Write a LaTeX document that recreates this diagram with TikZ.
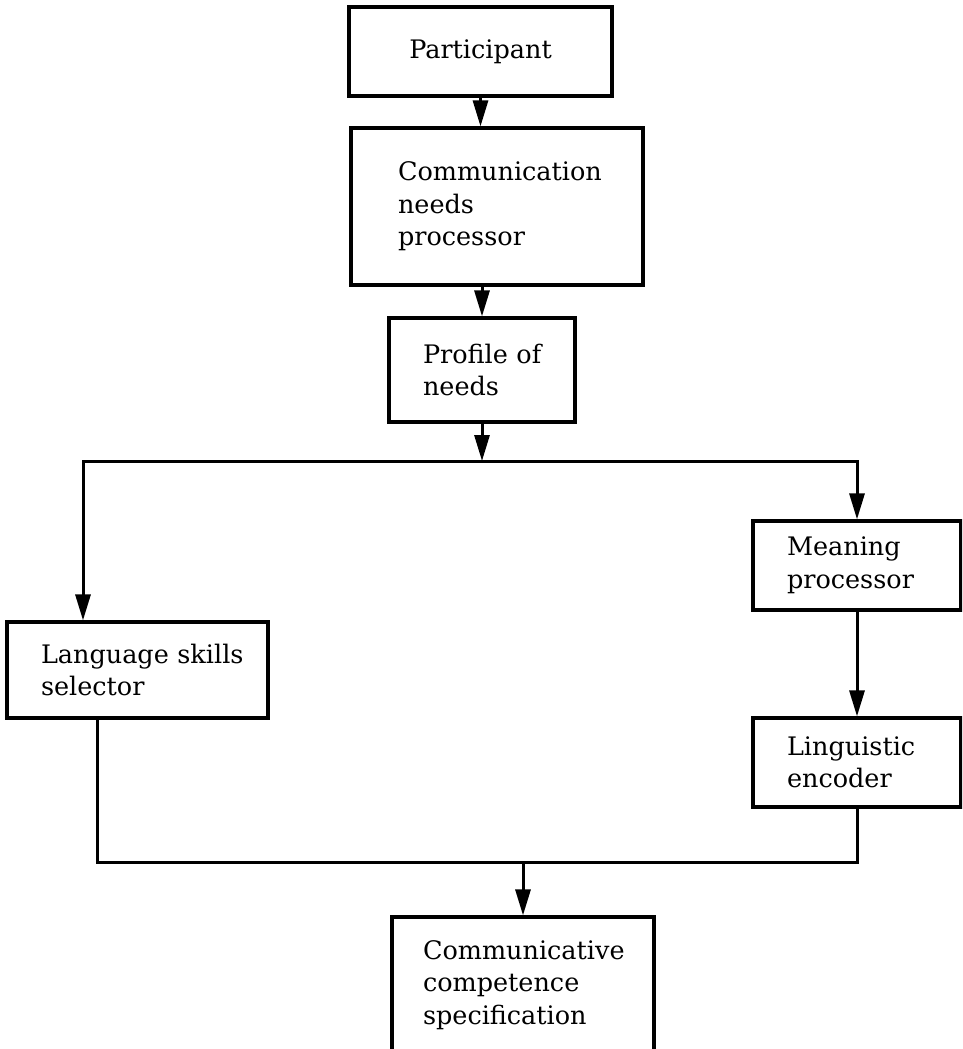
\documentclass[tikz,border=0pt]{standalone}
\usepackage{fontspec}
\setmainfont{DejaVu Serif}
\usetikzlibrary{arrows.meta}
\begin{document}
\begin{tikzpicture}[x=1pt,y=-1pt,
  box/.style={draw,line width=3.2pt,rectangle,inner sep=0pt,align=left,
    font=\fontsize{25.5}{32.5}\selectfont},
  conn/.style={line width=3pt},
  arr/.style={conn,-{Triangle[length=26pt,width=15pt]}}]
\useasboundingbox (0,0) rectangle (962,1049);
\clip (0,0) rectangle (962,1049);
\node[box,minimum width=263pt,minimum height=89pt,align=center] (part) at (480.5,51.5) {Participant};
\node[box,minimum width=292pt,minimum height=157pt,text width=198pt] (comm) at (497,206.5) {Communication\\needs\\processor};
\node[box,minimum width=186pt,minimum height=104pt,text width=118pt] (prof) at (482,370) {Profile~of\\needs};
\node[box,minimum width=261pt,minimum height=96pt,text width=193pt] (lang) at (137.5,670) {Language~skills\\selector};
\node[box,minimum width=208pt,minimum height=89pt,text width=140pt] (mean) at (857,565.5) {Meaning\\processor};
\node[box,minimum width=208pt,minimum height=89pt,text width=140pt] (ling) at (857,762.5) {Linguistic\\encoder};
\node[box,minimum width=262pt,minimum height=136pt,text width=200pt] (spec) at (523,985) {Communicative\\competence\\specification};
\draw[arr] (part.south) -- (part.south |- comm.north);
\draw[arr] (prof.north |- comm.south) -- (prof.north);
\coordinate (split) at (482,461);
\coordinate (lcorner) at (83,461);
\draw[arr] (prof.south) -- (split);
\draw[arr] (split) -- (lcorner) -- (lcorner |- lang.north);
\draw[arr] (split) -- (mean.north |- split) -- (mean.north);
\draw[arr] (mean.south) -- (ling.north);
\coordinate (lbot) at (97,862);
\coordinate (merge) at (523,862);
\draw[conn] (lbot |- lang.south) -- (lbot) -- (ling.south |- lbot) -- (ling.south);
\draw[arr] (merge) -- (spec.north);
\end{tikzpicture}
\end{document}
